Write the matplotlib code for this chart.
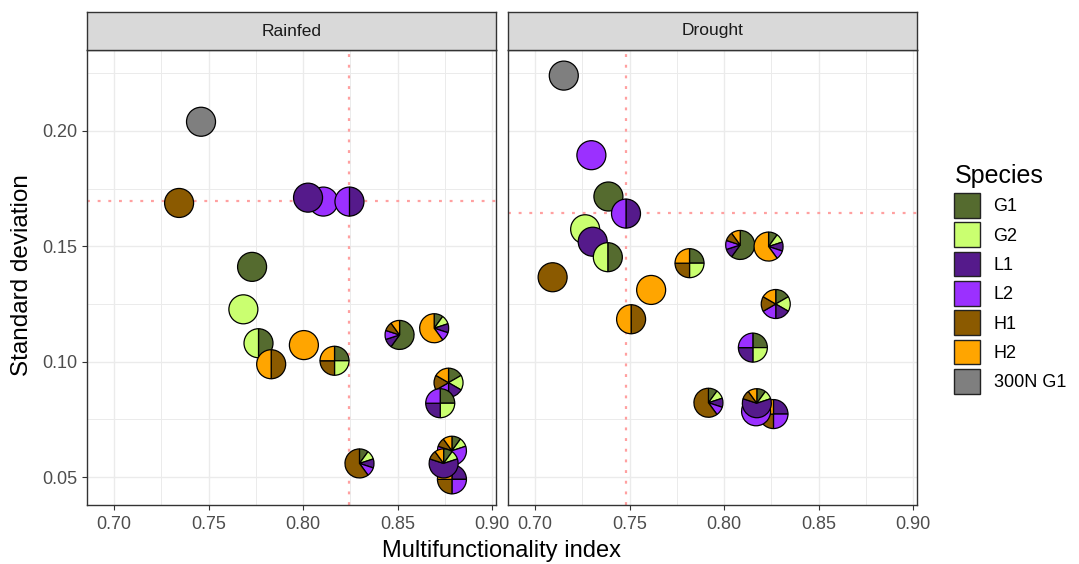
import matplotlib
matplotlib.use("Agg")
import matplotlib.pyplot as plt
import matplotlib.transforms as mtransforms
from matplotlib.patches import Wedge, Patch
import numpy as np

plt.rcParams['font.family'] = ['Liberation Sans', 'DejaVu Sans']

species = ['G1', 'G2', 'L1', 'L2', 'H1', 'H2', '300N G1']
colors = ['#556B2F', '#CAFF70', '#551A8B', '#9B30FF', '#8B5A00', '#FFA500', '#7F7F7F']
panels = ['Rainfed', 'Drought']

# species weights per point, columns follow `species`
rainfed_x = [0.746, 0.7344, 0.8107, 0.8026, 0.8245, 0.7730, 0.7684, 0.7764, 0.8004, 0.7831,
             0.8166, 0.8510, 0.8693, 0.8769, 0.8725, 0.8298, 0.8787, 0.8787, 0.8743]
rainfed_y = [0.204, 0.1688, 0.1694, 0.1711, 0.1694, 0.1411, 0.1227, 0.1080, 0.1072, 0.0989,
             0.1004, 0.1116, 0.1145, 0.0909, 0.0820, 0.0559, 0.0490, 0.0614, 0.0559]
rainfed_w = [[0, 0, 0, 0, 0, 0, 1], [0, 0, 0, 0, 1, 0, 0], [0, 0, 0, 1, 0, 0, 0],
             [0, 0, 1, 0, 0, 0, 0], [0, 0, 1, 1, 0, 0, 0], [1, 0, 0, 0, 0, 0, 0],
             [0, 1, 0, 0, 0, 0, 0], [1, 1, 0, 0, 0, 0, 0], [0, 0, 0, 0, 0, 1, 0],
             [0, 0, 0, 0, 1, 1, 0], [1, 1, 0, 0, 1, 1, 0], [6, 0, 1, 1, 1, 1, 0],
             [1, 1, 1, 1, 0, 6, 0], [1, 1, 1, 1, 1, 1, 0], [1, 1, 1, 1, 0, 0, 0],
             [1, 1, 1, 1, 6, 0, 0], [0, 0, 1, 1, 1, 1, 0], [1, 1, 0, 6, 1, 1, 0],
             [1, 1, 6, 0, 1, 1, 0]]

drought_x = [0.7152, 0.7298, 0.7388, 0.7265, 0.7305, 0.7093, 0.7614, 0.7481, 0.7385, 0.7508,
             0.7817, 0.8085, 0.8235, 0.8273, 0.8152, 0.7917, 0.8261, 0.8169, 0.8173]
drought_y = [0.2240, 0.1895, 0.1716, 0.1574, 0.1520, 0.1366, 0.1311, 0.1642, 0.1453, 0.1184,
             0.1427, 0.1506, 0.1499, 0.1250, 0.1061, 0.0822, 0.0773, 0.0785, 0.0820]
drought_w = [[0, 0, 0, 0, 0, 0, 1], [0, 0, 0, 1, 0, 0, 0], [1, 0, 0, 0, 0, 0, 0],
             [0, 1, 0, 0, 0, 0, 0], [0, 0, 1, 0, 0, 0, 0], [0, 0, 0, 0, 1, 0, 0],
             [0, 0, 0, 0, 0, 1, 0], [0, 0, 1, 1, 0, 0, 0], [1, 1, 0, 0, 0, 0, 0],
             [0, 0, 0, 0, 1, 1, 0], [1, 1, 0, 0, 1, 1, 0], [6, 0, 1, 1, 1, 1, 0],
             [1, 1, 1, 1, 0, 6, 0], [1, 1, 1, 1, 1, 1, 0], [1, 1, 1, 1, 0, 0, 0],
             [1, 1, 1, 1, 6, 0, 0], [0, 0, 1, 1, 1, 1, 0], [1, 1, 0, 6, 1, 1, 0],
             [1, 1, 6, 0, 1, 1, 0]]

ref_x = [0.8245, 0.748]
ref_y = [0.1697, 0.1644]

fig = plt.figure(figsize=(10.79, 5.64), dpi=100)

W, H = 1079, 564
def fx(px):
    return px / W
def fy(py):
    return 1 - py / H

panel_left = [87, 508]
panel_w = 409
top, bottom = 50, 504.5
strip_top = 12


def draw_pie(ax, x, y, weights, r=0.145):
    w = np.asarray(weights, float)
    frac = w / w.sum()
    trans = fig.dpi_scale_trans + mtransforms.ScaledTranslation(x, y, ax.transData)
    start = 0.0
    for f, c in zip(frac, colors):
        if f == 0:
            continue
        end = start + f
        ax.add_patch(Wedge((0, 0), r, 90 - 360 * end, 90 - 360 * start,
                           facecolor=c, edgecolor='black', lw=0.9,
                           transform=trans, zorder=3))
        start = end


data = [(rainfed_x, rainfed_y, rainfed_w), (drought_x, drought_y, drought_w)]
for i, name in enumerate(panels):
    ax = fig.add_axes([fx(panel_left[i]), fy(bottom), fx(panel_w), (bottom - top) / H])
    ax.set_xlim(0.6857, 0.902)
    ax.set_ylim(0.0381, 0.2351)
    ax.set_xticks([0.70, 0.75, 0.80, 0.85, 0.90])
    ax.set_xticklabels(['0.70', '0.75', '0.80', '0.85', '0.90'])
    ax.set_xticks(np.arange(0.725, 0.90, 0.05), minor=True)
    ax.set_yticks([0.05, 0.10, 0.15, 0.20])
    ax.set_yticks([0.075, 0.125, 0.175, 0.225], minor=True)
    ax.set_yticklabels(['0.05', '0.10', '0.15', '0.20'])
    ax.grid(which='major', color='#EBEBEB', lw=1.0, zorder=0)
    ax.grid(which='minor', color='#EBEBEB', lw=0.7, zorder=0)
    ax.set_axisbelow(True)
    for s in ax.spines.values():
        s.set_color('#333333')
        s.set_linewidth(1.0)
    ax.tick_params(which='major', length=3.5, width=0.8, color='#333333',
                   labelsize=13, labelcolor='#4D4D4D')
    ax.tick_params(axis='x', which='major', pad=4.5)
    ax.tick_params(axis='y', which='major', pad=3.5)
    ax.tick_params(which='minor', length=0)
    if i == 1:
        ax.tick_params(axis='y', which='major', length=0, labelleft=False)

    ax.axvline(ref_x[i], color='#FFA0A0', lw=1.6, ls=(0, (1.3, 3.5)), zorder=1.5)
    ax.axhline(ref_y[i], color='#FFA0A0', lw=1.6, ls=(0, (1.3, 3.5)), zorder=1.5)

    xs, ys, ws = data[i]
    for x, y, w in zip(xs, ys, ws):
        draw_pie(ax, x, y, w)

    sax = fig.add_axes([fx(panel_left[i]), fy(top), fx(panel_w), (top - strip_top) / H])
    sax.set_facecolor('#D9D9D9')
    sax.set_xticks([])
    sax.set_yticks([])
    for s in sax.spines.values():
        s.set_color('#333333')
        s.set_linewidth(1.0)
    sax.text(0.5, 0.5, name, ha='center', va='center', fontsize=12.5,
             color='#1A1A1A', transform=sax.transAxes)

fig.text(fx((87 + 917) / 2), fy(551), 'Multifunctionality index', ha='center',
         va='center', fontsize=17, color='black')
fig.text(fx(22), fy((top + bottom) / 2 - 2), 'Standard deviation', ha='center',
         va='center', rotation=90, fontsize=17.5, color='black')

handles = [Patch(facecolor=c, edgecolor='#222222', lw=1.0) for c in colors]
fig.legend(handles, species, title='Species', loc='upper left',
           bbox_to_anchor=(fx(940), fy(150)), frameon=False, fontsize=13,
           title_fontsize=18, handlelength=1.42, handleheight=1.72,
           labelspacing=0.26, handletextpad=0.75, alignment='left', borderpad=0.3)

fig.savefig('out.png', dpi=100)
